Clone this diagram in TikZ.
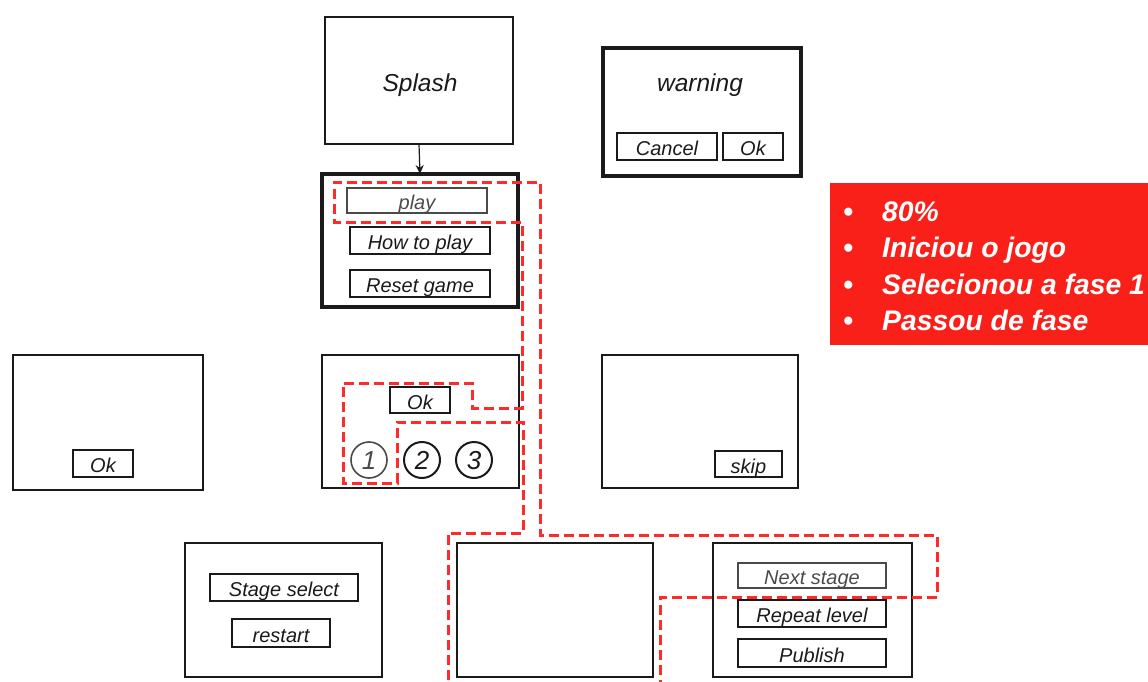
\documentclass[tikz,border=0pt]{standalone}
\usepackage{fontspec}
\setmainfont{Liberation Sans}
\usetikzlibrary{arrows.meta}
\definecolor{ink}{HTML}{1A1A1A}
\definecolor{greyink}{HTML}{4A4A4A}
\definecolor{alertred}{HTML}{FA201A}
\definecolor{dashred}{HTML}{FF2A2A}
\newcommand{\btnfont}{\fontsize{20}{22}\selectfont\itshape}
\newcommand{\numfont}{\fontsize{26}{28}\selectfont\itshape}
\newcommand{\ttlfont}{\fontsize{24.5}{27}\selectfont\itshape}
\newcommand{\notefont}{\fontsize{28.3}{31}\selectfont\bfseries\itshape}
\tikzset{
  screen/.style={draw=ink, line width=2pt, inner sep=0pt, outer sep=0pt},
  bigscreen/.style={draw=ink, line width=3.5pt, inner sep=0pt, outer sep=0pt},
  thinscreen/.style={draw=ink, line width=1.2pt, inner sep=0pt, outer sep=0pt},
  btn/.style={draw=ink, line width=2pt, inner sep=0pt, outer sep=0pt, font=\btnfont, text=ink,
    text height=18pt, text depth=0pt},
  greybtn/.style={btn, draw=greyink, line width=1.6pt, text=greyink},
  numc/.style={circle, draw=ink, line width=2pt, minimum size=36pt, inner sep=0pt, font=\numfont, text=ink,
    text height=19pt, text depth=0pt},
  greynumc/.style={numc, draw=greyink, line width=1.6pt, text=greyink},
  title/.style={font=\ttlfont, text=ink, inner sep=0pt, anchor=base},
  note/.style={font=\notefont, text=white, inner sep=0pt, anchor=base west},
  bul/.style={font=\notefont, text=white, inner sep=0pt, anchor=base},
  flow/.style={draw=dashred, line width=3pt, dash pattern=on 10pt off 5pt},
}
\begin{document}
\begin{tikzpicture}[x=1pt,y=-1pt]
\useasboundingbox (0,0) rectangle (1148,682);
% top
\node[thinscreen, minimum width=188pt, minimum height=127pt] (splash) at (419,80.5) {};
\node[title] (splashlbl) at (420,92) {Splash};
\node[bigscreen, minimum width=196pt, minimum height=133pt] (menu) at (420,240.5) {};
\node[greybtn, minimum width=140pt, minimum height=25pt] (play) at (417,200.5) {play};
\node[btn, minimum width=140pt, minimum height=27pt] (howto) at (420,240.5) {How to play};
\node[btn, minimum width=140pt, minimum height=27pt] (reset) at (420,283.5) {Reset game};
\draw[ink, line width=1.2pt, -{Stealth[length=9pt,width=8pt]}] (splash.south) -- (menu.north);
% warning
\node[bigscreen, minimum width=198pt, minimum height=128pt] (warn) at (702,112) {};
\node[title] (warnlbl) at (700,92) {warning};
\node[btn, minimum width=100pt, minimum height=27pt] (cancel) at (667,146.5) {Cancel};
\node[btn, minimum width=60pt, minimum height=27pt] (wok) at (753,146.5) {Ok};
% red note
\fill[alertred] (830,183) rectangle (1160,345);
\node[bul] (b1) at (848,221) {•};
\node[bul] (b2) at (848,257) {•};
\node[bul] (b3) at (848,294) {•};
\node[bul] (b4) at (848,330) {•};
\node[note] (n1) at (882,221) {80\%};
\node[note] (n2) at (882,257) {Iniciou o jogo};
\node[note] (n3) at (882,294) {Selecionou a fase 1};
\node[note] (n4) at (882,330) {Passou de fase};
% middle row
\node[screen, minimum width=190pt, minimum height=135pt] (left) at (108,422.5) {};
\node[btn, minimum width=60pt, minimum height=27pt] (lok) at (103,463.5) {Ok};
\node[screen, minimum width=197pt, minimum height=133pt] (stages) at (420.5,421.5) {};
\node[btn, minimum width=60pt, minimum height=26pt] (sok) at (420,400) {Ok};
\node[greynumc] (c1) at (369,460) {1};
\node[numc] (c2) at (422,460) {2};
\node[numc] (c3) at (474,460) {3};
\node[screen, minimum width=196pt, minimum height=133pt] (skips) at (700,421.5) {};
\node[btn, minimum width=67pt, minimum height=26pt] (skip) at (748.5,464) {skip};
% bottom row
\node[screen, minimum width=197pt, minimum height=134pt] (over) at (283.5,610) {};
\node[btn, minimum width=148pt, minimum height=27pt] (stagesel) at (284,587.5) {Stage select};
\node[btn, minimum width=98pt, minimum height=28pt] (restart) at (281,633) {restart};
\node[screen, minimum width=196pt, minimum height=134pt] (blank) at (555,610) {};
\node[screen, minimum width=199pt, minimum height=134pt] (done) at (812.5,610) {};
\node[greybtn, minimum width=148pt, minimum height=25pt] (next) at (812,575.5) {Next stage};
\node[btn, minimum width=148pt, minimum height=27pt] (repeat) at (812,613.5) {Repeat level};
\node[btn, minimum width=148pt, minimum height=28pt] (publish) at (812,653) {Publish};
% dashed flow
\coordinate (fs) at (660,690);
\coordinate (fe) at (448,690);
\draw[flow] (fs) -- (660,597) -- (937,597) -- (937,535) -- (540,535) -- (540,182)
  -- (334,182) -- (334,222) -- (522,222) -- (522,408) -- (472,408) -- (472,383)
  -- (343,383) -- (343,483) -- (397,483) -- (397,422) -- (523,422) -- (523,533)
  -- (448,533) -- (fe);
\end{tikzpicture}
\end{document}
